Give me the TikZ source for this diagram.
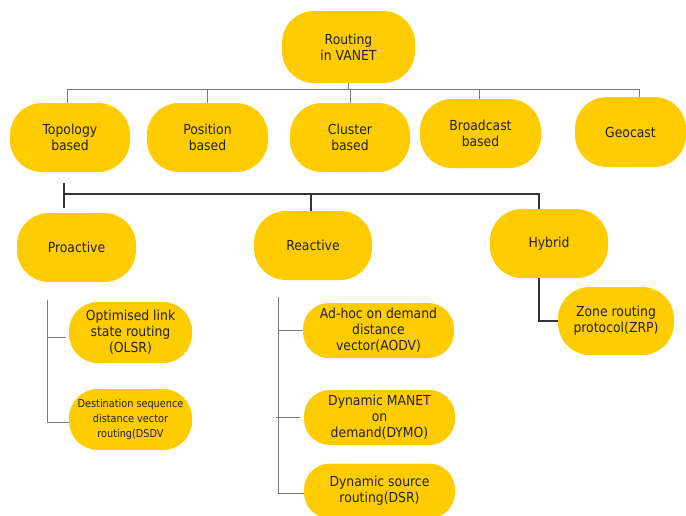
\documentclass[tikz,border=0pt]{standalone}
\usepackage{fontspec}
\setmainfont{DejaVu Sans Condensed}
\definecolor{gold}{HTML}{FFCC00}
\definecolor{txt}{HTML}{222222}
\definecolor{thinln}{HTML}{7A7A7A}
\definecolor{darkln}{HTML}{333333}
\tikzset{
  box/.style={rectangle, rounded corners=32pt, fill=gold, draw=none, text=txt, align=center,
    inner sep=1pt, font=\fontsize{13.8}{16}\selectfont},
  smallbox/.style={box, rounded corners=26pt},
  conn/.style={draw=thinln, line width=1pt},
  bus/.style={draw=darkln, line width=1.5pt},
}
\begin{document}
\begin{tikzpicture}[x=1pt,y=-1pt]
\clip (0,0) rectangle (686,515);
\fill[white] (0,0) rectangle (686,515);

\node[box, minimum width=133pt, minimum height=72pt] (root) at (348.5,47) {Routing\\in VANET};
\node[box, minimum width=120pt, minimum height=69pt] (topo) at (70,137.5) {Topology\\based};
\node[box, minimum width=121pt, minimum height=69pt] (pos) at (207.5,137.5) {Position\\based};
\node[box, minimum width=120pt, minimum height=69pt] (clu) at (350,137.5) {Cluster\\based};
\node[box, minimum width=121pt, minimum height=69pt] (bro) at (480.5,133.5) {Broadcast\\based};
\node[box, minimum width=111pt, minimum height=70pt] (geo) at (630.5,132) {Geocast};

\node[box, minimum width=119pt, minimum height=69pt] (pro) at (76.5,247.5) {Proactive};
\node[box, minimum width=118pt, minimum height=69pt] (rea) at (313,245.5) {Reactive};
\node[box, minimum width=118pt, minimum height=69pt] (hyb) at (549,243.5) {Hybrid};

\node[box, rounded corners=29pt, minimum width=123pt, minimum height=61pt] (olsr) at (130.5,332.5) {Optimised link\\state routing\\(OLSR)};
\node[box, rounded corners=29pt, minimum width=123pt, minimum height=61pt, font=\fontsize{10.8}{15}\selectfont] (dsdv) at (130.5,419.5) {Destination sequence\\distance vector\\routing(DSDV};
\node[smallbox, minimum width=151pt, minimum height=55pt] (aodv) at (378.5,330.5) {Ad-hoc on demand\\distance\\vector(AODV)};
\node[smallbox, minimum width=151pt, minimum height=55pt] (dymo) at (379.5,417.5) {Dynamic MANET\\on\\demand(DYMO)};
\node[smallbox, minimum width=151pt, minimum height=55pt] (dsr) at (379.5,491) {Dynamic source\\routing(DSR)};
\node[box, minimum width=116pt, minimum height=68pt] (zrp) at (616,321) {Zone routing\\protocol(ZRP)};

% top level connectors
\draw[conn] ([xshift=-3pt]topo.north) -- ++(0,-13) -| ([xshift=8.5pt]geo.north);
\draw[conn] (root.south) -- ++(0,6);
\draw[conn] (pos.north) -- ++(0,-13);
\draw[conn] (clu.north) -- ++(0,-13);
\draw[conn] ([xshift=-1.5pt]bro.north) -- ++(0,-9);

% second level bus
\coordinate (tstart) at (64,183);
\coordinate (j1) at (64,194);
\draw[bus] (tstart) -- ([xshift=-12.5pt,yshift=5pt]pro.north);
\draw[bus] (j1) -| ([xshift=-10pt]hyb.north);
\draw[bus] (j1 -| 311,0) -- ([xshift=-2pt]rea.north);
\draw[bus] ([xshift=-10pt]hyb.south) |- (zrp.west);

% proactive children
\coordinate (pt) at (47,300);
\draw[conn] (pt) |- ([yshift=-3pt]dsdv.west);
\draw[conn] (pt |- 0,337) -- ([xshift=-3pt]olsr.west |- 0,337);

% reactive children
\coordinate (rt) at (278,297);
\draw[conn] (rt) |- ([yshift=-2pt]dsr.west);
\draw[conn] (rt |- aodv.west) -- (aodv.west);
\draw[conn] ([xshift=-2pt]rt |- dymo.west) -- ([xshift=-4pt]dymo.west);
\end{tikzpicture}
\end{document}
